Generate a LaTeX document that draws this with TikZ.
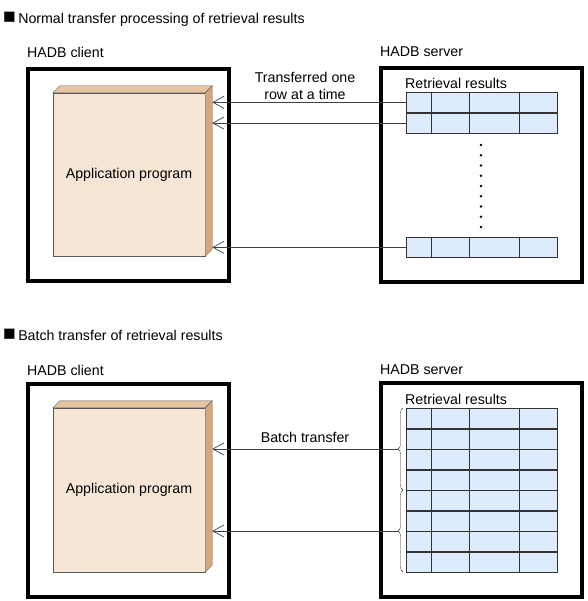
\documentclass[tikz,border=0pt]{standalone}
\usepackage{fontspec}
\setmainfont{Liberation Sans}
\usetikzlibrary{arrows.meta,positioning,decorations.pathreplacing}

\definecolor{appfront}{HTML}{F7E6D6}
\definecolor{apptop}{HTML}{E8C5A2}
\definecolor{appside}{HTML}{D6A77A}
\definecolor{cellblue}{HTML}{DDEBFC}

\newcommand{\bsq}{{\fontsize{21}{17}\selectfont ■}}

\tikzset{
  outerbox/.style={draw, line width=3.2pt},
  appface/.style={draw=black!65, fill=appfront, minimum width=152pt, minimum height=163pt, inner sep=0pt},
  rowbox/.style={draw=black!80, fill=cellblue, minimum width=151pt, minimum height=20.3pt, inner sep=0pt, anchor=north west},
  xfer/.style={draw=black!75, line width=0.7pt, {Straight Barb[length=11pt,width=12pt]}-},
  lbl/.style={anchor=west, inner sep=0pt},
}

\begin{document}
\begin{tikzpicture}[x=1pt, y=-1pt, font=\fontsize{14.2}{17}\selectfont]
  \useasboundingbox (0,0) rectangle (587,601);

  % normal transfer
  \node[lbl, anchor=base west] (title1) at (3,23.5) {\bsq\,Normal transfer processing of retrieval results};
  \node[lbl] (client1) at (27,52) {HADB client};
  \node[lbl] (server1) at (380,52) {HADB server};
  \draw[outerbox] (28,69) rectangle (229,281);
  \draw[outerbox] (381,68) rectangle (582,282);

  % application box, front then top and side
  \node[appface] (app1) at (129,174.5) {Application program};
  \filldraw[fill=apptop, draw=black!65] (app1.north west) -- ++(7,-7) -- ([shift={(7,-7)}]app1.north east) -- (app1.north east) -- cycle;
  \filldraw[fill=appside, draw=black!65] (app1.north east) -- ++(7,-7) -- ([shift={(7,-7)}]app1.south east) -- (app1.south east) -- cycle;
  \coordinate (side1) at ([xshift=7pt]app1.east);

  \node[lbl] (res1) at (405,83) {Retrieval results};
  \node[rowbox] (r1) at (406,92) {};
  \node[rowbox, below=0pt of r1] (r2) {};
  \node[rowbox] (r3) at (406,237) {};
  \foreach \r in {r1,r2,r3}
    \foreach \c in {25,63,113}
      \draw[black!80] ([xshift=\c pt]\r.north west) -- ([xshift=\c pt]\r.south west);
  % dots between rows
  \foreach \i in {0,...,8}
    \fill (481,{145+10.25*\i}) circle (1.3pt);

  \draw[xfer] (side1 |- r1.west) -- (r1.west);
  \draw[xfer] (side1 |- r2.west) -- (r2.west);
  \draw[xfer] (side1 |- r3.west) -- (r3.west);
  \node[align=center, inner sep=0pt] (one) at (305,85.5) {Transferred one\\row at a time};

  % batch transfer
  \node[lbl, anchor=base west] (title2) at (3,340.5) {\bsq\,Batch transfer of retrieval results};
  \node[lbl] (client2) at (27,370) {HADB client};
  \node[lbl] (server2) at (380,370) {HADB server};
  \draw[outerbox] (28,384) rectangle (229,597);
  \draw[outerbox] (381,383) rectangle (582,597);

  \node[appface, minimum height=164pt] (app2) at (129,490) {Application program};
  \filldraw[fill=apptop, draw=black!65] (app2.north west) -- ++(7,-7) -- ([shift={(7,-7)}]app2.north east) -- (app2.north east) -- cycle;
  \filldraw[fill=appside, draw=black!65] (app2.north east) -- ++(7,-7) -- ([shift={(7,-7)}]app2.south east) -- (app2.south east) -- cycle;
  \coordinate (side2) at ([xshift=7pt]app2.east);

  \node[lbl] (res2) at (405,399) {Retrieval results};
  \node[rowbox, minimum height=20.1pt] (b1) at (406,408) {};
  \foreach \n [remember=\n as \p (initially 1)] in {2,...,8}
    \node[rowbox, minimum height=20.1pt, below=0pt of b\p] (b\n) {};
  \foreach \n in {1,...,8}
    \foreach \c in {25,63,113}
      \draw[black!80] ([xshift=\c pt]b\n.north west) -- ([xshift=\c pt]b\n.south west);

  % braces
  \draw[black!80, decorate, decoration={brace, amplitude=5pt}] ([xshift=-3pt]b4.south west) -- ([xshift=-3pt]b1.north west);
  \draw[black!80, decorate, decoration={brace, amplitude=5pt}] ([xshift=-3pt]b8.south west) -- ([xshift=-3pt]b5.north west);
  \coordinate (tip1) at ([xshift=-8pt]b2.south west);
  \coordinate (tip2) at ([xshift=-8pt]b6.south west);

  \draw[xfer] (side2 |- tip1) -- (tip1);
  \draw[xfer] (side2 |- tip2) -- (tip2);
  \node[inner sep=0pt] (batch) at (305,437) {Batch transfer};
\end{tikzpicture}
\end{document}
